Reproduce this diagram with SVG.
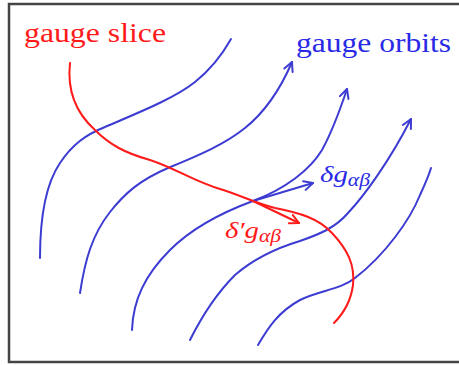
<svg xmlns="http://www.w3.org/2000/svg" width="459" height="365" viewBox="0 0 459 365">
<style>
.blue{fill:none;stroke:#3c3cd2;stroke-width:2;stroke-linecap:round;stroke-linejoin:round}
.red{fill:none;stroke:#ff1a1a;stroke-width:2;stroke-linecap:round;stroke-linejoin:round}
.t{font-family:"Liberation Serif","Times New Roman",serif;font-size:27px}
.m{font-family:"Liberation Serif","Times New Roman",serif;font-style:italic;font-size:24px}
</style>
<defs>
<marker id="ab" markerUnits="userSpaceOnUse" markerWidth="12" markerHeight="12" refX="10" refY="5" orient="auto" overflow="visible">
<path d="M1,0.5 L10,5 L1,9.5" fill="none" stroke="#3c3cd2" stroke-width="2" stroke-linecap="round" stroke-linejoin="round"/>
</marker>
<marker id="ar" markerUnits="userSpaceOnUse" markerWidth="12" markerHeight="12" refX="10" refY="5" orient="auto" overflow="visible">
<path d="M1,0.5 L10,5 L1,9.5" fill="none" stroke="#ff1a1a" stroke-width="2" stroke-linecap="round" stroke-linejoin="round"/>
</marker>
</defs>
<rect width="459" height="365" fill="#fff"/>
<rect x="9" y="4" width="462" height="358" fill="none" stroke="#444" stroke-width="2.5"/>
<g id="orbit1"><path class="blue" d="M40,258 C40,220 45,185 60,163 C72,145 85,135 105,127 C140,112 175,98 195,82 C210,70 222,55 231,39"/></g>
<g id="orbit2"><path class="blue" d="M80,293 C85,260 92,235 110,212 C125,193 140,180 168,168 C200,155 225,144 245,128 C265,112 280,90 292,62" marker-end="url(#ab)"/></g>
<g id="orbit3"><path class="blue" d="M132,330 C133,300 145,275 170,250 C190,230 215,215 253,201 C285,189 310,170 322,150 C333,130 340,110 347,89" marker-end="url(#ab)"/></g>
<g id="orbit4"><path class="blue" d="M190,340 C200,320 215,295 235,275 C250,262 270,250 300,241 C320,234 335,228 348,213 C365,195 390,160 411,119" marker-end="url(#ab)"/></g>
<g id="orbit5"><path class="blue" d="M258,345 C268,328 278,312 300,300 C320,290 340,290 355,278 C385,255 410,220 420,195 C426,182 429,175 431,168"/></g>
<g id="slice"><path class="red" d="M70,63 C67,90 75,112 95,130 C110,145 125,153 150,160 C175,168 195,182 220,189 C240,195 255,203 275,208 C300,213 318,218 332,233 C348,250 355,265 353,285 C351,300 345,312 334,323"/></g>
<g id="connectors">
<path class="blue" d="M253,201 L313,183" marker-end="url(#ab)"/>
<path class="red" d="M253,201 L299,223" marker-end="url(#ar)"/>
</g>
<g id="labels">
<text class="t" x="24" y="42" fill="#ff1a1a" textLength="142" lengthAdjust="spacingAndGlyphs">gauge slice</text>
<text class="t" x="296" y="52" fill="#2a2ae6" textLength="155" lengthAdjust="spacingAndGlyphs">gauge orbits</text>
<text class="m" x="320" y="182" fill="#2a2ae6" textLength="50" lengthAdjust="spacingAndGlyphs">δg<tspan font-size="18" dy="4">αβ</tspan></text>
<text class="m" x="225" y="238" fill="#ff1a1a" textLength="56" lengthAdjust="spacingAndGlyphs">δ′g<tspan font-size="18" dy="4">αβ</tspan></text>
</g>
</svg>
